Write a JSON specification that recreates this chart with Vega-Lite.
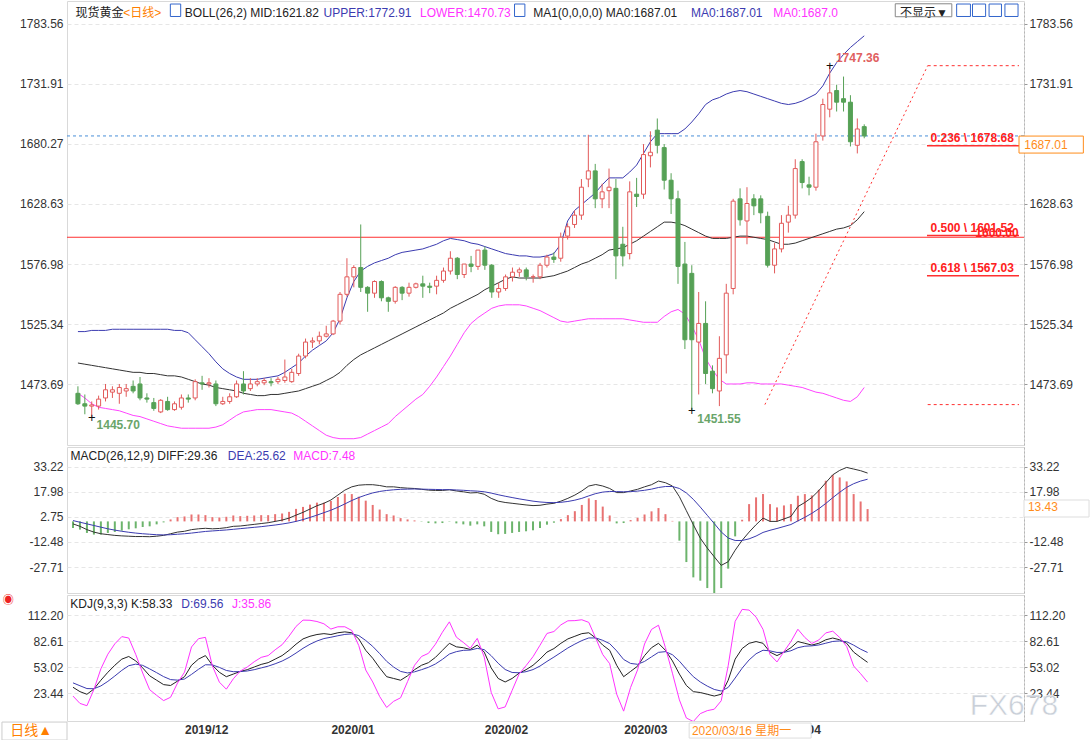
{
"$schema": "https://vega.github.io/schema/vega-lite/v6.json",
"padding": 0,
"background": "white",
"spacing": 2,
"bounds": "flush",
"resolve": {"scale": {"color": "independent"}},
"config": {"view": {"stroke": "#d9d9d9"}, "font": "Liberation Sans, Noto Sans CJK SC", "axis": {"labelFont": "Liberation Sans", "labelFontSize": 12, "labelColor": "#333333"}},
"datasets": {
"k": [
{"i":0,"o":1466,"h":1472,"l":1456,"c":1457,"up":1519,"mid":1492,"lo":1466,"dif":-1.5,"dea":0.5,"m":-4,"k":30,"d":35,"j":20},
{"i":1,"o":1457,"h":1465,"l":1448,"c":1455,"up":1519,"mid":1491,"lo":1462,"dif":-3,"dea":-0.5,"m":-5,"k":25,"d":31.7,"j":11.6},
{"i":2,"o":1455,"h":1459,"l":1445.7,"c":1456,"up":1520,"mid":1490,"lo":1457,"dif":-5,"dea":-1.5,"m":-7,"k":22,"d":28.5,"j":9},
{"i":3,"o":1455,"h":1464,"l":1452,"c":1461,"up":1520,"mid":1489,"lo":1454,"dif":-6.5,"dea":-2.5,"m":-8,"k":28,"d":28.3,"j":27.4},
{"i":4,"o":1462,"h":1474,"l":1459,"c":1469,"up":1520,"mid":1488,"lo":1453,"dif":-7.5,"dea":-3.5,"m":-8,"k":38,"d":31.5,"j":51},
{"i":5,"o":1467,"h":1472,"l":1462,"c":1469,"up":1521,"mid":1487,"lo":1452,"dif":-8,"dea":-4.5,"m":-7,"k":47,"d":36.7,"j":67.6},
{"i":6,"o":1466,"h":1474,"l":1457,"c":1471,"up":1521,"mid":1486,"lo":1451,"dif":-8.5,"dea":-5.3,"m":-6.4,"k":55,"d":42.8,"j":79.4},
{"i":7,"o":1468,"h":1474,"l":1463,"c":1470,"up":1521,"mid":1485,"lo":1449,"dif":-8.8,"dea":-6,"m":-5.6,"k":62,"d":49.2,"j":87.6},
{"i":8,"o":1472,"h":1477,"l":1466,"c":1468,"up":1521,"mid":1484,"lo":1447,"dif":-9,"dea":-6.6,"m":-4.8,"k":65,"d":54.5,"j":86},
{"i":9,"o":1474,"h":1480,"l":1460,"c":1462,"up":1521,"mid":1484,"lo":1446,"dif":-9.2,"dea":-7.1,"m":-4.2,"k":60,"d":56.3,"j":67.4},
{"i":10,"o":1462,"h":1466,"l":1458,"c":1461,"up":1521,"mid":1483,"lo":1444,"dif":-9.2,"dea":-7.5,"m":-3.4,"k":52,"d":54.9,"j":46.2},
{"i":11,"o":1458,"h":1462,"l":1451,"c":1453,"up":1521,"mid":1483,"lo":1442,"dif":-9.3,"dea":-7.8,"m":-3,"k":43,"d":50.9,"j":27.2},
{"i":12,"o":1450,"h":1461,"l":1449,"c":1460,"up":1521,"mid":1482,"lo":1440,"dif":-9,"dea":-8.1,"m":-1.8,"k":38,"d":46.6,"j":20.8},
{"i":13,"o":1459,"h":1463,"l":1451,"c":1452,"up":1521,"mid":1481,"lo":1438,"dif":-8.5,"dea":-8.2,"m":-0.6,"k":33,"d":42.1,"j":14.8},
{"i":14,"o":1452,"h":1459,"l":1451,"c":1457,"up":1520,"mid":1481,"lo":1437,"dif":-7.5,"dea":-8.1,"m":1.2,"k":32,"d":38.7,"j":18.6},
{"i":15,"o":1454,"h":1465,"l":1452,"c":1462,"up":1520,"mid":1480,"lo":1436,"dif":-6.5,"dea":-7.8,"m":2.6,"k":37,"d":38.1,"j":34.8},
{"i":16,"o":1462,"h":1465,"l":1458,"c":1461,"up":1518,"mid":1478,"lo":1436,"dif":-6,"dea":-7.5,"m":3,"k":42,"d":39.4,"j":47.2},
{"i":17,"o":1462,"h":1478,"l":1460,"c":1476,"up":1512,"mid":1476,"lo":1436,"dif":-5,"dea":-7.1,"m":4.2,"k":55,"d":44.6,"j":75.8},
{"i":18,"o":1475,"h":1481,"l":1469,"c":1474,"up":1506,"mid":1474,"lo":1436,"dif":-4.5,"dea":-6.6,"m":4.2,"k":62,"d":50.4,"j":85.2},
{"i":19,"o":1474,"h":1479,"l":1471,"c":1475,"up":1500,"mid":1473,"lo":1436,"dif":-4.2,"dea":-6.1,"m":3.8,"k":66,"d":55.6,"j":86.8},
{"i":20,"o":1474,"h":1477,"l":1455,"c":1457,"up":1493,"mid":1471,"lo":1437,"dif":-4.5,"dea":-5.8,"m":2.6,"k":55,"d":55.4,"j":54.2},
{"i":21,"o":1457,"h":1463,"l":1456,"c":1459,"up":1487,"mid":1470,"lo":1439,"dif":-4.3,"dea":-5.5,"m":2.4,"k":47,"d":52.6,"j":35.8},
{"i":22,"o":1459,"h":1466,"l":1457,"c":1463,"up":1483,"mid":1469,"lo":1443,"dif":-3.8,"dea":-5.2,"m":2.8,"k":42,"d":49.1,"j":27.8},
{"i":23,"o":1463,"h":1477,"l":1462,"c":1474,"up":1480,"mid":1468,"lo":1447,"dif":-3,"dea":-4.8,"m":3.6,"k":45,"d":47.7,"j":39.6},
{"i":24,"o":1474,"h":1485,"l":1465,"c":1468,"up":1478,"mid":1466,"lo":1450,"dif":-2.8,"dea":-4.4,"m":3.2,"k":48,"d":47.8,"j":48.4},
{"i":25,"o":1470,"h":1479,"l":1468,"c":1474,"up":1478,"mid":1465,"lo":1451,"dif":-2.3,"dea":-4,"m":3.4,"k":50,"d":48.5,"j":53},
{"i":26,"o":1474,"h":1479,"l":1472,"c":1476,"up":1478,"mid":1464,"lo":1452,"dif":-1.8,"dea":-3.6,"m":3.6,"k":53,"d":50,"j":59},
{"i":27,"o":1475,"h":1479,"l":1473,"c":1477,"up":1479,"mid":1464,"lo":1452,"dif":-1.3,"dea":-3.2,"m":3.8,"k":56,"d":52,"j":64},
{"i":28,"o":1476,"h":1479,"l":1472,"c":1475,"up":1480,"mid":1465,"lo":1452,"dif":-0.8,"dea":-2.7,"m":3.8,"k":58,"d":54,"j":66},
{"i":29,"o":1476,"h":1480,"l":1474,"c":1478,"up":1481,"mid":1465,"lo":1451,"dif":0,"dea":-2.2,"m":4.4,"k":62,"d":56.7,"j":72.6},
{"i":30,"o":1477,"h":1495,"l":1475,"c":1480,"up":1484,"mid":1466,"lo":1450,"dif":0.8,"dea":-1.6,"m":4.8,"k":66,"d":59.8,"j":78.4},
{"i":31,"o":1476,"h":1487,"l":1475,"c":1484,"up":1488,"mid":1467,"lo":1449,"dif":2,"dea":-0.9,"m":5.8,"k":72,"d":63.9,"j":88.2},
{"i":32,"o":1483,"h":1500,"l":1481,"c":1498,"up":1492,"mid":1468,"lo":1446,"dif":3.8,"dea":0,"m":7.6,"k":79,"d":68.9,"j":99.2},
{"i":33,"o":1498,"h":1513,"l":1496,"c":1510,"up":1498,"mid":1470,"lo":1442,"dif":5.5,"dea":1.1,"m":8.8,"k":85,"d":74.3,"j":106.4},
{"i":34,"o":1510,"h":1514,"l":1505,"c":1511,"up":1503,"mid":1472,"lo":1438,"dif":7.5,"dea":2.4,"m":10.2,"k":88,"d":78.9,"j":106.2},
{"i":35,"o":1511,"h":1519,"l":1508,"c":1515,"up":1507,"mid":1474,"lo":1434,"dif":9.5,"dea":3.8,"m":11.4,"k":90,"d":82.6,"j":104.8},
{"i":36,"o":1515,"h":1524,"l":1514,"c":1517,"up":1511,"mid":1477,"lo":1430,"dif":11,"dea":5.3,"m":11.4,"k":91,"d":85.4,"j":102.2},
{"i":37,"o":1517,"h":1529,"l":1516,"c":1528,"up":1518,"mid":1480,"lo":1428,"dif":13,"dea":6.8,"m":12.4,"k":90,"d":86.9,"j":96.2},
{"i":38,"o":1528,"h":1553,"l":1525,"c":1551,"up":1530,"mid":1484,"lo":1427,"dif":16,"dea":8.6,"m":14.8,"k":92,"d":88.6,"j":98.8},
{"i":39,"o":1551,"h":1582,"l":1549,"c":1566,"up":1548,"mid":1490,"lo":1427,"dif":19,"dea":10.6,"m":16.8,"k":93,"d":90.1,"j":98.8},
{"i":40,"o":1566,"h":1576,"l":1557,"c":1574,"up":1562,"mid":1495,"lo":1427,"dif":21,"dea":12.7,"m":16.6,"k":92,"d":90.7,"j":94.6},
{"i":41,"o":1574,"h":1611,"l":1553,"c":1557,"up":1571,"mid":1499,"lo":1428,"dif":22,"dea":14.5,"m":15,"k":85,"d":88.8,"j":77.4},
{"i":42,"o":1557,"h":1558,"l":1536,"c":1552,"up":1575,"mid":1502,"lo":1431,"dif":22.3,"dea":16,"m":12.6,"k":72,"d":83.2,"j":49.6},
{"i":43,"o":1552,"h":1563,"l":1548,"c":1562,"up":1578,"mid":1505,"lo":1434,"dif":22.3,"dea":17.3,"m":10,"k":63,"d":76.5,"j":36},
{"i":44,"o":1562,"h":1563,"l":1545,"c":1548,"up":1580,"mid":1508,"lo":1437,"dif":21.8,"dea":18.2,"m":7.2,"k":52,"d":68.3,"j":19.4},
{"i":45,"o":1548,"h":1549,"l":1536,"c":1545,"up":1582,"mid":1511,"lo":1440,"dif":21,"dea":18.8,"m":4.4,"k":42,"d":59.5,"j":7},
{"i":46,"o":1545,"h":1558,"l":1543,"c":1557,"up":1585,"mid":1514,"lo":1446,"dif":21,"dea":19.2,"m":3.6,"k":40,"d":53,"j":14},
{"i":47,"o":1557,"h":1558,"l":1546,"c":1552,"up":1587,"mid":1517,"lo":1451,"dif":20.5,"dea":19.5,"m":2,"k":38,"d":48,"j":18},
{"i":48,"o":1552,"h":1561,"l":1549,"c":1557,"up":1588,"mid":1520,"lo":1456,"dif":20.2,"dea":19.6,"m":1.2,"k":43,"d":46.3,"j":36.4},
{"i":49,"o":1557,"h":1561,"l":1556,"c":1560,"up":1589,"mid":1523,"lo":1461,"dif":20,"dea":19.7,"m":0.6,"k":50,"d":47.5,"j":55},
{"i":50,"o":1560,"h":1567,"l":1548,"c":1558,"up":1590,"mid":1526,"lo":1465,"dif":19.5,"dea":19.6,"m":-0.2,"k":55,"d":50,"j":65},
{"i":51,"o":1558,"h":1561,"l":1552,"c":1557,"up":1592,"mid":1529,"lo":1472,"dif":19,"dea":19.5,"m":-1,"k":58,"d":52.7,"j":68.6},
{"i":52,"o":1558,"h":1567,"l":1551,"c":1563,"up":1594,"mid":1532,"lo":1480,"dif":18.8,"dea":19.4,"m":-1.2,"k":64,"d":56.5,"j":79},
{"i":53,"o":1563,"h":1574,"l":1561,"c":1571,"up":1597,"mid":1535,"lo":1489,"dif":18.8,"dea":19.3,"m":-1,"k":72,"d":61.7,"j":92.6},
{"i":54,"o":1571,"h":1588,"l":1568,"c":1582,"up":1599,"mid":1539,"lo":1498,"dif":19.2,"dea":19.3,"m":-0.2,"k":80,"d":67.8,"j":104.4},
{"i":55,"o":1582,"h":1583,"l":1564,"c":1568,"up":1598,"mid":1542,"lo":1508,"dif":18.5,"dea":19.1,"m":-1.2,"k":76,"d":70.5,"j":87},
{"i":56,"o":1568,"h":1577,"l":1565,"c":1577,"up":1597,"mid":1545,"lo":1518,"dif":18,"dea":18.9,"m":-1.8,"k":75,"d":72,"j":81},
{"i":57,"o":1577,"h":1584,"l":1570,"c":1575,"up":1595,"mid":1548,"lo":1526,"dif":17.3,"dea":18.6,"m":-2.6,"k":73,"d":72.3,"j":74.4},
{"i":58,"o":1575,"h":1589,"l":1572,"c":1589,"up":1594,"mid":1551,"lo":1531,"dif":17.5,"dea":18.4,"m":-1.8,"k":78,"d":74.2,"j":85.6},
{"i":59,"o":1589,"h":1592,"l":1572,"c":1576,"up":1592,"mid":1555,"lo":1535,"dif":16.5,"dea":18,"m":-3,"k":70,"d":72.8,"j":64.4},
{"i":60,"o":1576,"h":1577,"l":1548,"c":1553,"up":1590,"mid":1558,"lo":1539,"dif":14,"dea":17.2,"m":-6.4,"k":52,"d":65.9,"j":24.2},
{"i":61,"o":1553,"h":1561,"l":1548,"c":1556,"up":1588,"mid":1561,"lo":1541,"dif":12.3,"dea":16.2,"m":-7.8,"k":40,"d":57.3,"j":5.4},
{"i":62,"o":1556,"h":1568,"l":1554,"c":1566,"up":1586,"mid":1564,"lo":1542,"dif":11.5,"dea":15.3,"m":-7.6,"k":36,"d":50.2,"j":7.6},
{"i":63,"o":1566,"h":1574,"l":1562,"c":1570,"up":1585,"mid":1566,"lo":1542,"dif":11,"dea":14.5,"m":-7,"k":40,"d":46.8,"j":26.4},
{"i":64,"o":1570,"h":1574,"l":1566,"c":1572,"up":1584,"mid":1565,"lo":1542,"dif":10.5,"dea":13.7,"m":-6.4,"k":46,"d":46.5,"j":45},
{"i":65,"o":1572,"h":1574,"l":1563,"c":1566,"up":1584,"mid":1565,"lo":1541,"dif":10,"dea":13,"m":-6,"k":50,"d":47.7,"j":54.6},
{"i":66,"o":1566,"h":1568,"l":1561,"c":1566,"up":1583,"mid":1565,"lo":1539,"dif":9.6,"dea":12.3,"m":-5.4,"k":55,"d":50.1,"j":64.8},
{"i":67,"o":1566,"h":1578,"l":1564,"c":1576,"up":1583,"mid":1565,"lo":1537,"dif":9.8,"dea":11.8,"m":-4,"k":62,"d":54.1,"j":77.8},
{"i":68,"o":1576,"h":1585,"l":1574,"c":1583,"up":1584,"mid":1566,"lo":1534,"dif":10.5,"dea":11.5,"m":-2,"k":70,"d":59.4,"j":91.2},
{"i":69,"o":1583,"h":1587,"l":1578,"c":1581,"up":1586,"mid":1567,"lo":1531,"dif":11,"dea":11.4,"m":-0.8,"k":74,"d":64.3,"j":93.4},
{"i":70,"o":1582,"h":1604,"l":1579,"c":1600,"up":1594,"mid":1569,"lo":1528,"dif":12.3,"dea":11.6,"m":1.4,"k":80,"d":69.5,"j":101},
{"i":71,"o":1601,"h":1612,"l":1598,"c":1609,"up":1614,"mid":1571,"lo":1527,"dif":14,"dea":12.1,"m":3.8,"k":85,"d":74.7,"j":105.6},
{"i":72,"o":1611,"h":1623,"l":1608,"c":1619,"up":1623,"mid":1574,"lo":1528,"dif":16,"dea":12.9,"m":6.2,"k":88,"d":79.1,"j":105.8},
{"i":73,"o":1619,"h":1650,"l":1615,"c":1643,"up":1628,"mid":1577,"lo":1529,"dif":18.5,"dea":14,"m":10,"k":91,"d":83.1,"j":106.8},
{"i":74,"o":1650,"h":1688,"l":1643,"c":1657,"up":1633,"mid":1579,"lo":1530,"dif":21.5,"dea":15.5,"m":14,"k":92,"d":86.1,"j":103.8},
{"i":75,"o":1657,"h":1663,"l":1625,"c":1633,"up":1638,"mid":1582,"lo":1530,"dif":22.4,"dea":16.9,"m":13,"k":86,"d":86.1,"j":85.8},
{"i":76,"o":1633,"h":1646,"l":1625,"c":1639,"up":1645,"mid":1585,"lo":1530,"dif":21.5,"dea":17.8,"m":9,"k":78,"d":83.4,"j":67.2},
{"i":77,"o":1640,"h":1659,"l":1625,"c":1643,"up":1651,"mid":1589,"lo":1530,"dif":20,"dea":18.2,"m":3.6,"k":72,"d":79.6,"j":56.8},
{"i":78,"o":1642,"h":1650,"l":1564,"c":1584,"up":1651,"mid":1590,"lo":1530,"dif":17.5,"dea":18.1,"m":-1.2,"k":55,"d":71.4,"j":22.2},
{"i":79,"o":1594,"h":1609,"l":1575,"c":1584,"up":1651,"mid":1591,"lo":1530,"dif":17.5,"dea":18,"m":-1,"k":42,"d":61.6,"j":2.8},
{"i":80,"o":1586,"h":1648,"l":1581,"c":1639,"up":1656,"mid":1594,"lo":1529,"dif":18.5,"dea":18.1,"m":0.8,"k":48,"d":57.1,"j":29.8},
{"i":81,"o":1637,"h":1651,"l":1626,"c":1635,"up":1662,"mid":1597,"lo":1528,"dif":19.5,"dea":18.4,"m":2.2,"k":54,"d":56.1,"j":49.8},
{"i":82,"o":1637,"h":1680,"l":1633,"c":1671,"up":1672,"mid":1601,"lo":1527,"dif":21,"dea":18.9,"m":4.2,"k":66,"d":59.4,"j":79.2},
{"i":83,"o":1670,"h":1691,"l":1660,"c":1673,"up":1682,"mid":1605,"lo":1527,"dif":22.3,"dea":19.6,"m":6.1,"k":75,"d":64.6,"j":95.8},
{"i":84,"o":1692,"h":1702,"l":1672,"c":1679,"up":1689,"mid":1609,"lo":1527,"dif":24.5,"dea":20.6,"m":8.1,"k":80,"d":69.7,"j":100.6},
{"i":85,"o":1677,"h":1680,"l":1641,"c":1649,"up":1689,"mid":1613,"lo":1532,"dif":23.5,"dea":21.2,"m":4.4,"k":72,"d":70.5,"j":75},
{"i":86,"o":1649,"h":1655,"l":1620,"c":1633,"up":1689,"mid":1613,"lo":1536,"dif":21.5,"dea":21.2,"m":0.3,"k":60,"d":67,"j":46},
{"i":87,"o":1633,"h":1640,"l":1560,"c":1575,"up":1689,"mid":1612,"lo":1538,"dif":15,"dea":20,"m":-11.7,"k":45,"d":59.7,"j":15.6},
{"i":88,"o":1577,"h":1596,"l":1504,"c":1512,"up":1693,"mid":1610,"lo":1534,"dif":6.5,"dea":17.3,"m":-24.7,"k":32,"d":50.5,"j":-5},
{"i":89,"o":1569,"h":1576,"l":1451.55,"c":1512,"up":1699,"mid":1607,"lo":1524,"dif":-2,"dea":13.4,"m":-34,"k":25,"d":42,"j":-9},
{"i":90,"o":1510,"h":1553,"l":1465,"c":1526,"up":1706,"mid":1604,"lo":1512,"dif":-10.2,"dea":8.7,"m":-36,"k":24,"d":36,"j":0},
{"i":91,"o":1526,"h":1545,"l":1474,"c":1483,"up":1714,"mid":1601,"lo":1496,"dif":-16.2,"dea":3.7,"m":-40.5,"k":22,"d":31.3,"j":3.4},
{"i":92,"o":1485,"h":1490,"l":1466,"c":1470,"up":1718,"mid":1599,"lo":1486,"dif":-21.5,"dea":-1.3,"m":-43.5,"k":20,"d":27.5,"j":5},
{"i":93,"o":1468,"h":1515,"l":1455,"c":1496,"up":1720,"mid":1599,"lo":1478,"dif":-26.7,"dea":-6.4,"m":-40.5,"k":22,"d":25.7,"j":14.6},
{"i":94,"o":1499,"h":1560,"l":1483,"c":1552,"up":1723,"mid":1599,"lo":1474,"dif":-24.5,"dea":-10.1,"m":-28.7,"k":38,"d":29.8,"j":54.4},
{"i":95,"o":1556,"h":1633,"l":1551,"c":1631,"up":1725,"mid":1600,"lo":1474,"dif":-17.5,"dea":-11.6,"m":-9.1,"k":62,"d":40.5,"j":105},
{"i":96,"o":1633,"h":1642,"l":1610,"c":1615,"up":1726,"mid":1601,"lo":1474,"dif":-11.5,"dea":-11.6,"m":1,"k":74,"d":51.7,"j":118.6},
{"i":97,"o":1614,"h":1643,"l":1594,"c":1629,"up":1725,"mid":1601,"lo":1475,"dif":-6.5,"dea":-10.6,"m":10.5,"k":80,"d":61.1,"j":117.8},
{"i":98,"o":1633,"h":1637,"l":1619,"c":1627,"up":1723,"mid":1600,"lo":1475,"dif":-2,"dea":-8.9,"m":14.6,"k":82,"d":68.1,"j":109.8},
{"i":99,"o":1633,"h":1636,"l":1612,"c":1621,"up":1721,"mid":1599,"lo":1474,"dif":2,"dea":-6.7,"m":16.6,"k":80,"d":72.1,"j":95.8},
{"i":100,"o":1618,"h":1622,"l":1574,"c":1576,"up":1719,"mid":1598,"lo":1474,"dif":0,"dea":-5.4,"m":10.5,"k":70,"d":71.4,"j":67.2},
{"i":101,"o":1576,"h":1595,"l":1569,"c":1590,"up":1717,"mid":1596,"lo":1474,"dif":0,"dea":-4.3,"m":8.5,"k":66,"d":69.6,"j":58.8},
{"i":102,"o":1590,"h":1619,"l":1587,"c":1612,"up":1715,"mid":1594,"lo":1474,"dif":1.5,"dea":-3.1,"m":9.7,"k":70,"d":69.7,"j":70.6},
{"i":103,"o":1613,"h":1627,"l":1604,"c":1619,"up":1714,"mid":1594,"lo":1473,"dif":3,"dea":-1.9,"m":10.5,"k":75,"d":71.5,"j":82},
{"i":104,"o":1619,"h":1667,"l":1616,"c":1659,"up":1715,"mid":1595,"lo":1472,"dif":9,"dea":0.3,"m":15.6,"k":82,"d":75,"j":96},
{"i":105,"o":1665,"h":1667,"l":1642,"c":1647,"up":1717,"mid":1597,"lo":1471,"dif":11.5,"dea":2.5,"m":16.6,"k":80,"d":76.7,"j":86.6},
{"i":106,"o":1645,"h":1652,"l":1636,"c":1643,"up":1720,"mid":1599,"lo":1469,"dif":14.5,"dea":4.9,"m":15.8,"k":78,"d":77.1,"j":79.8},
{"i":107,"o":1643,"h":1689,"l":1640,"c":1682,"up":1723,"mid":1601,"lo":1467,"dif":18.7,"dea":7.7,"m":19.2,"k":80,"d":78.1,"j":83.8},
{"i":108,"o":1687,"h":1719,"l":1683,"c":1714,"up":1730,"mid":1603,"lo":1466,"dif":23.5,"dea":10.9,"m":24.7,"k":84,"d":80.1,"j":91.8},
{"i":109,"o":1710,"h":1747.36,"l":1703,"c":1724,"up":1741,"mid":1605,"lo":1464,"dif":28.3,"dea":14.4,"m":28.3,"k":86,"d":82.1,"j":93.8},
{"i":110,"o":1726,"h":1731,"l":1708,"c":1716,"up":1750,"mid":1607,"lo":1462,"dif":31,"dea":17.7,"m":26.7,"k":84,"d":82.7,"j":86.6},
{"i":111,"o":1719,"h":1738,"l":1708,"c":1716,"up":1757,"mid":1608,"lo":1460,"dif":32.8,"dea":20.7,"m":24.3,"k":80,"d":81.8,"j":76.4},
{"i":112,"o":1716,"h":1722,"l":1678,"c":1682,"up":1763,"mid":1610,"lo":1459,"dif":31.8,"dea":22.9,"m":16.6,"k":70,"d":77.9,"j":54.2},
{"i":113,"o":1679,"h":1702,"l":1672,"c":1693,"up":1768,"mid":1615,"lo":1463,"dif":30.8,"dea":24.5,"m":12.1,"k":64,"d":73.3,"j":45.4},
{"i":114,"o":1695,"h":1697,"l":1685,"c":1687,"up":1773,"mid":1622,"lo":1471,"dif":29.36,"dea":25.62,"m":7.48,"k":58.33,"d":69.56,"j":35.86}
],
"hdr1": [
{"t":"现货黄金","i":-0.34,"s":"dark"},
{"t":"<日线>","i":6.56,"s":"orange"},
{"t":"BOLL(26,2) MID:1621.82","i":15.5,"s":"dark"},
{"t":"UPPER:1772.91","i":35.6,"s":"blue"},
{"t":"LOWER:1470.73","i":49.6,"s":"mag"},
{"t":"MA1(0,0,0,0) MA0:1687.01","i":66.0,"s":"dark"},
{"t":"MA0:1687.01","i":88.9,"s":"blue"},
{"t":"MA0:1687.0","i":100.8,"s":"mag"},
{"t":"不显示▼","i":119.2,"s":"dark"}
],
"hdr2": [
{"t":"MACD(26,12,9) DIFF:29.36","i":-0.34,"s":"dark"},
{"t":"DEA:25.62","i":22.2,"s":"blue"},
{"t":"MACD:7.48","i":31.6,"s":"mag"}
],
"hdr3": [
{"t":"KDJ(9,3,3) K:58.33","i":-0.39,"s":"dark"},
{"t":"D:69.56","i":15.54,"s":"blue"},
{"t":"J:35.86","i":22.8,"s":"mag"}
]
},
"vconcat": [
{
"width": 957, "height": 444,
"resolve": {"axis": {"x": "independent", "y": "independent"}, "scale": {"color": "independent"}},
"layer": [
{"data": {"values": [{"v": 1687.01}]}, "mark": {"type": "rule", "color": "#4a8fd8", "strokeDash": [3, 3], "strokeWidth": 1},
 "encoding": {"y": {"field": "v", "type": "quantitative", "scale": {"domain": [1421.6, 1802.9], "nice": false, "zero": false},
  "axis": {"orient": "left", "values": [1473.69, 1525.34, 1576.98, 1628.63, 1680.27, 1731.91, 1783.56], "format": ".2f", "title": null, "grid": true, "gridColor": "#e6e6e6", "gridDash": [4, 3], "domain": false, "ticks": false, "labelPadding": 4}}}},
{"data": {"values": [{"v": 1600}]}, "mark": {"type": "rule", "color": "#ff3030", "strokeWidth": 1},
 "encoding": {"y": {"field": "v", "type": "quantitative",
  "axis": {"orient": "right", "values": [1473.69, 1525.34, 1576.98, 1628.63, 1731.91, 1783.56], "format": ".2f", "title": null, "grid": false, "domain": true, "domainColor": "#b5b5b5", "domainDash": [2, 2], "ticks": true, "tickSize": 3, "tickColor": "#999999", "labelPadding": 2}}}},
{"data": {"name": "k"}, "mark": {"type": "line", "color": "#3b3bb0", "strokeWidth": 1},
 "encoding": {"x": {"field": "i", "type": "quantitative", "scale": {"domain": [-0.86, 136.44], "nice": false, "zero": false}, "axis": null}, "y": {"field": "up", "type": "quantitative", "axis": null}}},
{"data": {"name": "k"}, "mark": {"type": "line", "color": "#ff44ff", "strokeWidth": 1},
 "encoding": {"x": {"field": "i", "type": "quantitative", "axis": null}, "y": {"field": "lo", "type": "quantitative", "axis": null}}},
{"data": {"name": "k"}, "mark": {"type": "line", "color": "#333333", "strokeWidth": 1},
 "encoding": {"x": {"field": "i", "type": "quantitative", "axis": null}, "y": {"field": "mid", "type": "quantitative", "axis": null}}},
{"data": {"name": "k"}, "mark": {"type": "rule", "strokeWidth": 1},
 "encoding": {"x": {"field": "i", "type": "quantitative", "axis": null}, "y": {"field": "l", "type": "quantitative", "axis": null}, "y2": {"field": "h"},
  "color": {"condition": {"test": "datum.c >= datum.o", "value": "#e25a5a"}, "value": "#56a156"}}},
{"data": {"name": "k"}, "mark": {"type": "bar", "size": 4, "strokeWidth": 1},
 "encoding": {"x": {"field": "i", "type": "quantitative", "axis": null}, "y": {"field": "o", "type": "quantitative", "axis": null}, "y2": {"field": "c"},
  "fill": {"condition": {"test": "datum.c >= datum.o", "value": "#ffffff"}, "value": "#56a156"},
  "stroke": {"condition": {"test": "datum.c >= datum.o", "value": "#e25a5a"}, "value": "#56a156"}}},
{"data": {"values": [{"a": 99.6, "b": 123.2, "p": 1456.3, "q": 1747.36}]}, "mark": {"type": "rule", "color": "#ff3030", "strokeDash": [2, 3], "strokeWidth": 1},
 "encoding": {"x": {"field": "a", "type": "quantitative", "axis": null}, "x2": {"field": "b"}, "y": {"field": "p", "type": "quantitative", "axis": null}, "y2": {"field": "q"}}},
{"data": {"values": [{"a": 123.2, "b": 136.44, "p": 1747.36}, {"a": 123.2, "b": 136.44, "p": 1456.3}]}, "mark": {"type": "rule", "color": "#ff3030", "strokeDash": [3, 3], "strokeWidth": 1},
 "encoding": {"x": {"field": "a", "type": "quantitative", "axis": null}, "x2": {"field": "b"}, "y": {"field": "p", "type": "quantitative", "axis": null}}},
{"data": {"values": [{"a": 123.1, "b": 136.44, "p": 1678.68}, {"a": 123.1, "b": 136.44, "p": 1601.52}, {"a": 123.1, "b": 136.44, "p": 1567.03}]}, "mark": {"type": "rule", "color": "#ff3030", "strokeWidth": 1.5},
 "encoding": {"x": {"field": "a", "type": "quantitative", "axis": null}, "x2": {"field": "b"}, "y": {"field": "p", "type": "quantitative", "axis": null}}},
{"data": {"values": [{"t": "0.236 \\ 1678.68", "a": 135.7, "p": 1685.2}, {"t": "0.500 \\ 1601.52", "a": 135.7, "p": 1607.9}, {"t": "1600.00", "a": 136.4, "p": 1603.6}, {"t": "0.618 \\ 1567.03", "a": 135.7, "p": 1573.6}]},
 "mark": {"type": "text", "align": "right", "baseline": "middle", "fontSize": 12, "fontWeight": "bold", "color": "#ff2020"},
 "encoding": {"x": {"field": "a", "type": "quantitative", "axis": null}, "y": {"field": "p", "type": "quantitative", "axis": null}, "text": {"field": "t"}}},
{"data": {"values": [{"t": "+", "a": 109, "p": 1747.36}, {"t": "+", "a": 89, "p": 1450.5}, {"t": "+", "a": 2, "p": 1445.0}]},
 "mark": {"type": "text", "align": "center", "baseline": "middle", "fontSize": 13, "color": "#111111"},
 "encoding": {"x": {"field": "a", "type": "quantitative", "axis": null}, "y": {"field": "p", "type": "quantitative", "axis": null}, "text": {"field": "t"}}},
{"data": {"values": [{"t": "1747.36", "a": 109.9, "p": 1753.9, "s": "hi"}, {"t": "1451.55", "a": 89.8, "p": 1443.9, "s": "lo"}, {"t": "1445.70", "a": 2.7, "p": 1438.7, "s": "lo"}]},
 "mark": {"type": "text", "align": "left", "baseline": "middle", "fontSize": 12, "fontWeight": "bold"},
 "encoding": {"x": {"field": "a", "type": "quantitative", "axis": null}, "y": {"field": "p", "type": "quantitative", "axis": null}, "text": {"field": "t"},
  "color": {"field": "s", "type": "nominal", "scale": {"domain": ["hi", "lo"], "range": ["#e06060", "#6aa56a"]}, "legend": null}}},
{"data": {"name": "hdr1"}, "mark": {"type": "text", "align": "left", "baseline": "middle", "fontSize": 12},
 "encoding": {"x": {"field": "i", "type": "quantitative", "axis": null}, "y": {"datum": 1792.6, "type": "quantitative", "axis": null}, "text": {"field": "t"},
  "color": {"field": "s", "type": "nominal", "scale": {"domain": ["dark", "orange", "blue", "mag"], "range": ["#222222", "#ff7f00", "#3b3bb0", "#ff33ff"]}, "legend": null}}},
{"data": {"values": [{"a": 13.4, "b": 14.9}, {"a": 63.3, "b": 64.8}, {"a": 127.4, "b": 129.4}, {"a": 129.7, "b": 131.6}, {"a": 132.1, "b": 133.9}, {"a": 134.4, "b": 136.3}]},
 "mark": {"type": "rect", "fill": "#ffffff", "stroke": "#3366cc", "strokeWidth": 1},
 "encoding": {"x": {"field": "a", "type": "quantitative", "axis": null}, "x2": {"field": "b"}, "y": {"datum": 1800.3, "type": "quantitative", "axis": null}, "y2": {"datum": 1789.6}}},
{"data": {"values": [{"a": 118.5, "b": 126.7}]},
 "mark": {"type": "rect", "fill": null, "stroke": "#888888", "strokeWidth": 1},
 "encoding": {"x": {"field": "a", "type": "quantitative", "axis": null}, "x2": {"field": "b"}, "y": {"datum": 1800.5, "type": "quantitative", "axis": null}, "y2": {"datum": 1789.4}}},
{"data": {"values": [{"a": 136.44, "b": 145.77}]},
 "mark": {"type": "rect", "fill": "#ffffff", "stroke": "#ff8c1a", "strokeWidth": 1},
 "encoding": {"x": {"field": "a", "type": "quantitative", "axis": null}, "x2": {"field": "b"}, "y": {"datum": 1686.9, "type": "quantitative", "axis": null}, "y2": {"datum": 1672.3}}},
{"data": {"values": [{"t": "1687.01", "a": 137.2}]},
 "mark": {"type": "text", "align": "left", "baseline": "middle", "fontSize": 12, "color": "#ff8c1a"},
 "encoding": {"x": {"field": "a", "type": "quantitative", "axis": null}, "y": {"datum": 1679.6, "type": "quantitative", "axis": null}, "text": {"field": "t"}}}
]
},
{
"width": 957, "height": 146,
"resolve": {"axis": {"x": "independent", "y": "independent"}, "scale": {"color": "independent"}},
"layer": [
{"data": {"name": "k"}, "mark": {"type": "rule", "strokeWidth": 2},
 "encoding": {"x": {"field": "i", "type": "quantitative", "scale": {"domain": [-0.86, 136.44], "nice": false, "zero": false}, "axis": null},
  "y": {"field": "m", "type": "quantitative", "scale": {"domain": [-43.5, 45.2], "nice": false, "zero": false},
   "axis": {"orient": "left", "values": [33.22, 17.98, 2.75, -12.48, -27.71], "format": ".2f", "labelExpr": "replace(datum.label, '−', '-')", "title": null, "grid": true, "gridColor": "#e6e6e6", "gridDash": [4, 3], "domain": false, "ticks": false, "labelPadding": 4}},
  "y2": {"datum": 0},
  "color": {"condition": {"test": "datum.m >= 0", "value": "#e87272"}, "value": "#6cb46c"}}},
{"data": {"name": "k"}, "mark": {"type": "line", "color": "#333333", "strokeWidth": 1},
 "encoding": {"x": {"field": "i", "type": "quantitative", "axis": null},
  "y": {"field": "dif", "type": "quantitative",
   "axis": {"orient": "right", "values": [33.22, 17.98, -12.48, -27.71], "format": ".2f", "labelExpr": "replace(datum.label, '−', '-')", "title": null, "grid": false, "domain": true, "domainColor": "#b5b5b5", "domainDash": [2, 2], "ticks": true, "tickSize": 3, "tickColor": "#999999", "labelPadding": 2}}}},
{"data": {"name": "k"}, "mark": {"type": "line", "color": "#3b3bb0", "strokeWidth": 1},
 "encoding": {"x": {"field": "i", "type": "quantitative", "axis": null}, "y": {"field": "dea", "type": "quantitative", "axis": null}}},
{"data": {"name": "hdr2"}, "mark": {"type": "text", "align": "left", "baseline": "middle", "fontSize": 12},
 "encoding": {"x": {"field": "i", "type": "quantitative", "axis": null}, "y": {"datum": 40.0, "type": "quantitative", "axis": null}, "text": {"field": "t"},
  "color": {"field": "s", "type": "nominal", "scale": {"domain": ["dark", "orange", "blue", "mag"], "range": ["#222222", "#ff7f00", "#3b3bb0", "#ff33ff"]}, "legend": null}}},
{"data": {"values": [{"a": 136.44, "b": 145.77}]},
 "mark": {"type": "rect", "fill": "#ffffff", "stroke": "#dddddd", "strokeWidth": 1},
 "encoding": {"x": {"field": "a", "type": "quantitative", "axis": null}, "x2": {"field": "b"}, "y": {"datum": 13.0, "type": "quantitative", "axis": null}, "y2": {"datum": 2.67}}},
{"data": {"values": [{"t": "13.43", "a": 137.0}]},
 "mark": {"type": "text", "align": "left", "baseline": "middle", "fontSize": 12, "color": "#ff8c1a"},
 "encoding": {"x": {"field": "a", "type": "quantitative", "axis": null}, "y": {"datum": 8.9, "type": "quantitative", "axis": null}, "text": {"field": "t"}}}
]
},
{
"width": 957, "height": 126,
"resolve": {"axis": {"x": "independent", "y": "independent"}, "scale": {"color": "independent"}},
"layer": [
{"data": {"name": "k"}, "mark": {"type": "line", "color": "#222222", "strokeWidth": 1, "clip": true},
 "encoding": {"x": {"field": "i", "type": "quantitative", "scale": {"domain": [-0.86, 136.44], "nice": false, "zero": false},
   "axis": {"orient": "bottom", "values": [16, 37, 59, 79, 101], "labelExpr": "datum.value == 16 ? '2019/12' : datum.value == 37 ? '2020/01' : datum.value == 59 ? '2020/02' : datum.value == 79 ? '2020/03' : '2020/04'", "labelAlign": "left", "labelFontWeight": "bold", "labelFontSize": 12, "labelColor": "#333333", "labelPadding": 3, "ticks": false, "domain": false, "grid": false, "title": null, "zindex": 0}},
  "y": {"field": "k", "type": "quantitative", "scale": {"domain": [-8.4, 134.96], "nice": false, "zero": false},
   "axis": {"orient": "left", "values": [112.2, 82.61, 53.02, 23.44], "format": ".2f", "title": null, "grid": true, "gridColor": "#e6e6e6", "gridDash": [4, 3], "domain": false, "ticks": false, "labelPadding": 4}}}},
{"data": {"name": "k"}, "mark": {"type": "line", "color": "#3b3bb0", "strokeWidth": 1, "clip": true},
 "encoding": {"x": {"field": "i", "type": "quantitative", "axis": null},
  "y": {"field": "d", "type": "quantitative",
   "axis": {"orient": "right", "values": [112.2, 82.61, 53.02, 23.44], "format": ".2f", "title": null, "grid": false, "domain": true, "domainColor": "#b5b5b5", "domainDash": [2, 2], "ticks": true, "tickSize": 3, "tickColor": "#999999", "labelPadding": 2}}}},
{"data": {"name": "k"}, "mark": {"type": "line", "color": "#ff33ff", "strokeWidth": 1, "clip": true},
 "encoding": {"x": {"field": "i", "type": "quantitative", "axis": null}, "y": {"field": "j", "type": "quantitative", "axis": null}}},
{"data": {"name": "hdr3"}, "mark": {"type": "text", "align": "left", "baseline": "middle", "fontSize": 12},
 "encoding": {"x": {"field": "i", "type": "quantitative", "axis": null}, "y": {"datum": 124.4, "type": "quantitative", "axis": null}, "text": {"field": "t"},
  "color": {"field": "s", "type": "nominal", "scale": {"domain": ["dark", "orange", "blue", "mag"], "range": ["#222222", "#ff7f00", "#3b3bb0", "#ff33ff"]}, "legend": null}}},
{"data": {"values": [{"t": "FX678", "a": 135.0}]},
 "mark": {"type": "text", "align": "center", "baseline": "middle", "fontSize": 30, "color": "#c9cfd8", "stroke": "#ffffff", "strokeWidth": 0.5},
 "encoding": {"x": {"field": "a", "type": "quantitative", "axis": null}, "y": {"datum": 8.6, "type": "quantitative", "axis": null}, "text": {"field": "t"}}},
{"data": {"values": [{"a": 88.4, "b": 105.9}]},
 "mark": {"type": "rect", "fill": "#ffffff", "stroke": "#dddddd", "strokeWidth": 1},
 "encoding": {"x": {"field": "a", "type": "quantitative", "axis": null}, "x2": {"field": "b"}, "y": {"datum": -10.7, "type": "quantitative", "axis": null}, "y2": {"datum": -27.8}}},
{"data": {"values": [{"t": "2020/03/16 星期一", "a": 88.8}]},
 "mark": {"type": "text", "align": "left", "baseline": "middle", "fontSize": 12, "color": "#ff8c1a"},
 "encoding": {"x": {"field": "a", "type": "quantitative", "axis": null}, "y": {"datum": -19.3, "type": "quantitative", "axis": null}, "text": {"field": "t"}}},
{"data": {"values": [{"a": -10.19, "b": -0.86}]},
 "mark": {"type": "rect", "fill": "#ffffff", "stroke": "#cccccc", "strokeWidth": 1},
 "encoding": {"x": {"field": "a", "type": "quantitative", "axis": null}, "x2": {"field": "b"}, "y": {"datum": -9.6, "type": "quantitative", "axis": null}, "y2": {"datum": -30.1}}},
{"data": {"values": [{"t": "日线▲", "a": -9.0}]},
 "mark": {"type": "text", "align": "left", "baseline": "middle", "fontSize": 14, "color": "#ff7f00"},
 "encoding": {"x": {"field": "a", "type": "quantitative", "axis": null}, "y": {"datum": -19.8, "type": "quantitative", "axis": null}, "text": {"field": "t"}}},
{"data": {"values": [{"t": "◉", "a": -9.3}]},
 "mark": {"type": "text", "align": "center", "baseline": "middle", "fontSize": 11, "color": "#ee2222"},
 "encoding": {"x": {"field": "a", "type": "quantitative", "axis": null}, "y": {"datum": 127.8, "type": "quantitative", "axis": null}, "text": {"field": "t"}}}
]
}
]
}
